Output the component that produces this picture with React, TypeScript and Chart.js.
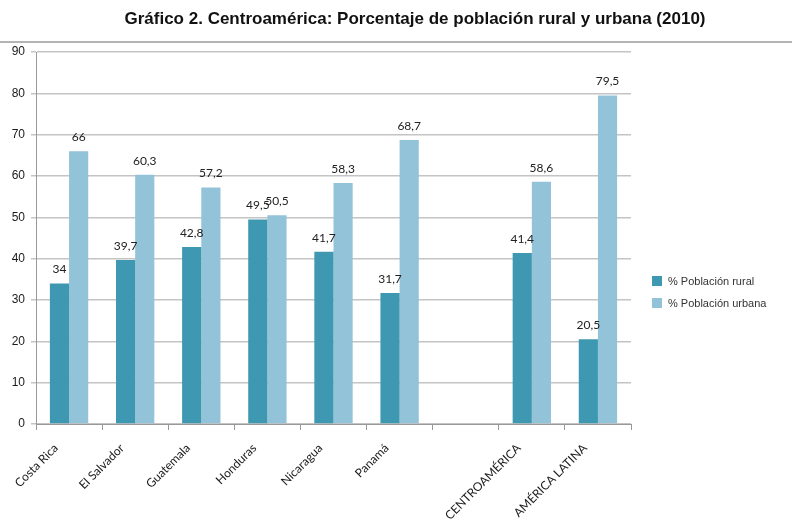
import React, { useEffect, useRef } from "react";
import { Chart, registerables } from "chart.js";

Chart.register(...registerables);

const TITLE = "Gráfico 2. Centroamérica: Porcentaje de población rural y urbana (2010)";
const categories = ["Costa Rica", "El Salvador", "Guatemala", "Honduras", "Nicaragua", "Panamá", "", "CENTROAMÉRICA", "AMÉRICA LATINA"];
const rural = [34, 39.7, 42.8, 49.5, 41.7, 31.7, null, 41.4, 20.5];
const urbana = [66, 60.3, 57.2, 50.5, 58.3, 68.7, null, 58.6, 79.5];
const seriesNames = ["% Población rural", "% Población urbana"];
const seriesColors = ["#3f98b1", "#93c3d8"];
const yTicks = [0, 10, 20, 30, 40, 50, 60, 70, 80, 90];

const fmt = (v: number) => String(v).replace(".", ",");

export default function App() {
  const ref = useRef<HTMLCanvasElement | null>(null);
  useEffect(() => {
    document.body.style.margin = "0";
    const canvas = ref.current!;
    const extras = {
      id: "extras",
      afterDraw(chart: any) {
        const ctx = chart.ctx;
        ctx.save();
        // title
        ctx.fillStyle = "#111";
        ctx.font = "bold 17px 'Liberation Sans', Arial, sans-serif";
        ctx.textAlign = "center";
        ctx.textBaseline = "middle";
        ctx.fillText(TITLE, 415, 19);
        // separator
        ctx.strokeStyle = "#b4b4b4";
        ctx.lineWidth = 2;
        ctx.beginPath();
        ctx.moveTo(0, 42);
        ctx.lineTo(792, 42);
        ctx.stroke();
        // data labels
        ctx.font = "12px Lato, 'Open Sans', sans-serif";
        ctx.fillStyle = "#222";
        ctx.textAlign = "center";
        ctx.textBaseline = "middle";
        chart.data.datasets.forEach((ds: any, di: number) => {
          const meta = chart.getDatasetMeta(di);
          meta.data.forEach((el: any, i: number) => {
            const v = ds.data[i];
            if (v == null) return;
            ctx.fillText(fmt(v), el.x, el.y - 14);
          });
        });
        // legend
        ctx.font = "11px 'Liberation Sans', Arial, sans-serif";
        ctx.textAlign = "left";
        seriesNames.forEach((n, i) => {
          const y = 281 + i * 22;
          ctx.fillStyle = seriesColors[i];
          ctx.fillRect(652, y - 5, 10, 10);
          ctx.fillStyle = "#333";
          ctx.fillText(n, 668, y + 1);
        });
        ctx.restore();
      },
    };
    const chart = new Chart(canvas, {
      type: "bar",
      data: {
        labels: categories,
        datasets: [
          { label: seriesNames[0], data: rural as any, backgroundColor: seriesColors[0], categoryPercentage: 0.58, barPercentage: 1.0 },
          { label: seriesNames[1], data: urbana as any, backgroundColor: seriesColors[1], categoryPercentage: 0.58, barPercentage: 1.0 },
        ],
      },
      options: {
        animation: false,
        responsive: false,
        maintainAspectRatio: false,
        layout: { padding: { top: 52, right: 161, left: 0, bottom: 0 } },
        plugins: { legend: { display: false }, title: { display: false }, tooltip: { enabled: false } },
        scales: {
          x: {
            grid: { drawOnChartArea: false, drawTicks: true, tickLength: 6, color: "#999", offset: true },
            border: { color: "#999" },
            ticks: {
              maxRotation: 45,
              minRotation: 45,
              autoSkip: false,
              padding: 11,
              labelOffset: -13,
              color: "#1a1a1a",
              font: { family: "Lato, 'Open Sans', sans-serif", size: 12 },
            },
            afterFit: (s: any) => { s.height = 103; },
          },
          y: {
            min: 0,
            max: 90,
            afterBuildTicks: (s: any) => { s.ticks = yTicks.map((v) => ({ value: v })); },
            grid: { color: "#c4c4c4", tickLength: 5, lineWidth: 1.5 },
            border: { color: "#999" },
            ticks: {
              color: "#1a1a1a",
              padding: 6,
              font: { family: "'Liberation Sans', Arial, sans-serif", size: 12 },
            },
            afterFit: (s: any) => { s.width = 36; },
          },
        },
      },
      plugins: [extras],
    });
    return () => chart.destroy();
  }, []);
  return (
    <div style={{ width: 792, height: 527, position: "relative" }}>
      <canvas ref={ref} width={792} height={527} style={{ width: 792, height: 527, display: "block" }} />
    </div>
  );
}
